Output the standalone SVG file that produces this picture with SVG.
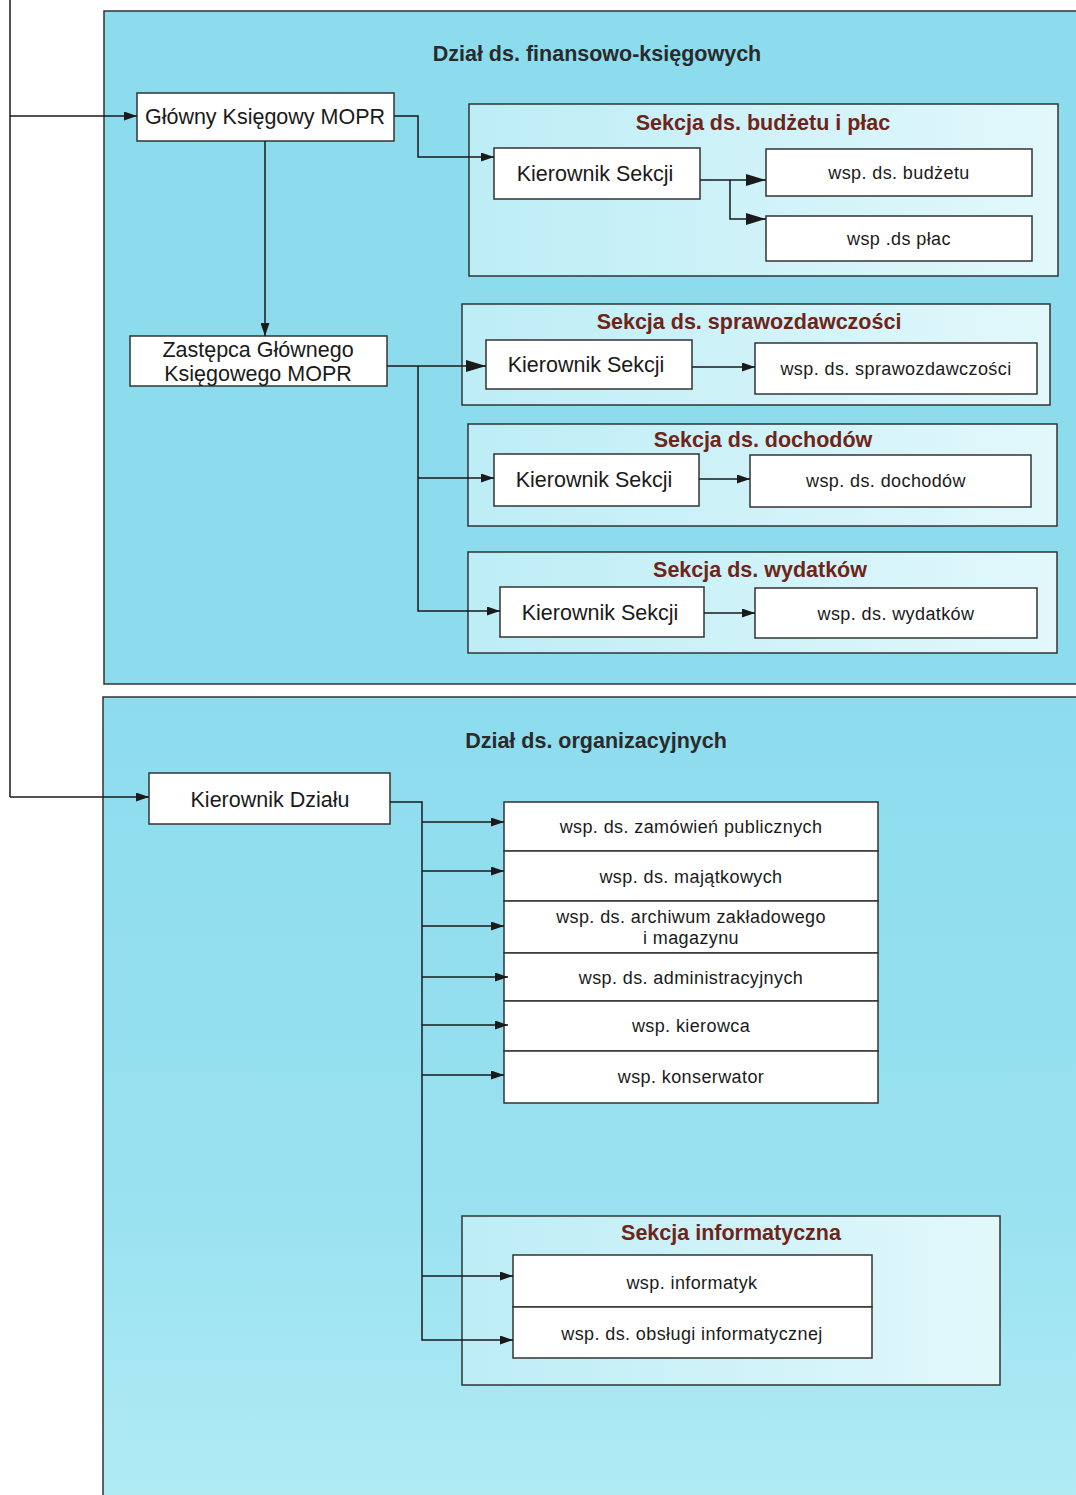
<svg xmlns="http://www.w3.org/2000/svg" width="1076" height="1495" viewBox="0 0 1076 1495">
<defs>
<linearGradient id="secg" x1="0" y1="0" x2="1" y2="0">
<stop offset="0" stop-color="#bdedf6"/>
<stop offset="1" stop-color="#e2f8fb"/>
</linearGradient>
<linearGradient id="dept2g" x1="0" y1="0" x2="0" y2="1">
<stop offset="0" stop-color="#8ddcee"/>
<stop offset="0.6" stop-color="#98e1f0"/>
<stop offset="1" stop-color="#b2ecf5"/>
</linearGradient>
<marker id="ah" viewBox="0 0 13 9" refX="13" refY="4.5" markerWidth="13" markerHeight="9" markerUnits="userSpaceOnUse" orient="auto">
<path d="M0,0 L13,4.5 L0,9 Z" fill="#1a1a1a"/>
</marker>
<marker id="ahb" viewBox="0 0 20 12" refX="20" refY="6" markerWidth="20" markerHeight="12" markerUnits="userSpaceOnUse" orient="auto">
<path d="M0,0 L20,6 L0,12 Z" fill="#1a1a1a"/>
</marker>
<style>
.dept{fill:#8ddcee;stroke:#333;stroke-width:1.5}
.sec{fill:url(#secg);stroke:#333;stroke-width:1.5}
.box{fill:#fff;stroke:#333;stroke-width:1.5}
.dt{font-family:"Liberation Sans",Arial,sans-serif;font-weight:bold;font-size:21.5px;fill:#2a2a2a;text-anchor:middle}
.st{font-family:"Liberation Sans",Arial,sans-serif;font-weight:bold;font-size:21.5px;fill:#6e2518;text-anchor:middle}
.bt{font-family:"Liberation Sans",Arial,sans-serif;font-size:21.5px;fill:#1a1a1a;text-anchor:middle}
.kt{font-family:"Liberation Sans",Arial,sans-serif;font-size:21.5px;fill:#1a1a1a;text-anchor:middle}
.wt{font-family:"Liberation Sans",Arial,sans-serif;font-size:18px;fill:#1a1a1a;text-anchor:middle;letter-spacing:0.4px}
.c{fill:none;stroke:#1a1a1a;stroke-width:1.5}
</style>
</defs>
<rect width="1076" height="1495" fill="#ffffff"/>

<g id="dept-fin">
<rect class="dept" x="104" y="11" width="990" height="673"/>
<text class="dt" x="597" y="61">Dział ds. finansowo-księgowych</text>
</g>
<g id="dept-org">
<rect x="103" y="697" width="990" height="820" fill="url(#dept2g)" stroke="#333" stroke-width="1.5"/>
<text class="dt" x="596" y="748">Dział ds. organizacyjnych</text>
</g>

<g id="sec-budzet">
<rect class="sec" x="469" y="104" width="589" height="172"/>
<text class="st" x="763" y="130">Sekcja ds. budżetu i płac</text>
</g>
<g id="sec-spraw">
<rect class="sec" x="462" y="304" width="588" height="101"/>
<text class="st" x="749" y="329">Sekcja ds. sprawozdawczości</text>
</g>
<g id="sec-doch">
<rect class="sec" x="468" y="424" width="589" height="102"/>
<text class="st" x="763" y="447">Sekcja ds. dochodów</text>
</g>
<g id="sec-wyd">
<rect class="sec" x="468" y="552" width="589" height="101"/>
<text class="st" x="760" y="577">Sekcja ds. wydatków</text>
</g>
<g id="sec-inf">
<rect class="sec" x="462" y="1216" width="538" height="169"/>
<text class="st" x="731" y="1240">Sekcja informatyczna</text>
</g>

<g id="glowny">
<rect class="box" x="137" y="93" width="257" height="48"/>
<text class="bt" x="265" y="124">Główny Księgowy MOPR</text>
</g>
<g id="zastepca">
<rect class="box" x="130" y="336" width="257" height="50"/>
<text class="bt" x="258" y="357">Zastępca Głównego</text>
<text class="bt" x="258" y="381">Księgowego MOPR</text>
</g>

<g id="kier-budzet">
<rect class="box" x="494" y="148" width="206" height="51"/>
<text class="kt" x="595" y="181">Kierownik Sekcji</text>
</g>
<g id="wsp-budzet">
<rect class="box" x="766" y="149" width="266" height="47"/>
<text class="wt" x="899" y="179">wsp. ds. budżetu</text>
</g>
<g id="wsp-plac">
<rect class="box" x="766" y="216" width="266" height="45"/>
<text class="wt" x="899" y="245">wsp .ds płac</text>
</g>

<g id="kier-spraw">
<rect class="box" x="486" y="340" width="206" height="49"/>
<text class="kt" x="586" y="372">Kierownik Sekcji</text>
</g>
<g id="wsp-spraw">
<rect class="box" x="755" y="343" width="282" height="51"/>
<text class="wt" x="896" y="375">wsp. ds. sprawozdawczości</text>
</g>

<g id="kier-doch">
<rect class="box" x="494" y="454" width="205" height="52"/>
<text class="kt" x="594" y="487">Kierownik Sekcji</text>
</g>
<g id="wsp-doch">
<rect class="box" x="750" y="455" width="281" height="52"/>
<text class="wt" x="886" y="487">wsp. ds. dochodów</text>
</g>

<g id="kier-wyd">
<rect class="box" x="500" y="587" width="204" height="50"/>
<text class="kt" x="600" y="620">Kierownik Sekcji</text>
</g>
<g id="wsp-wyd">
<rect class="box" x="755" y="588" width="282" height="50"/>
<text class="wt" x="896" y="620">wsp. ds. wydatków</text>
</g>

<g id="kier-dzialu">
<rect class="box" x="149" y="773" width="241" height="51"/>
<text class="bt" x="270" y="807">Kierownik Działu</text>
</g>

<g id="wsp-zam">
<rect class="box" x="504" y="802" width="374" height="49"/>
<text class="wt" x="691" y="833">wsp. ds. zamówień publicznych</text>
</g>
<g id="wsp-maj">
<rect class="box" x="504" y="851" width="374" height="50"/>
<text class="wt" x="691" y="883">wsp. ds. majątkowych</text>
</g>
<g id="wsp-arch">
<rect class="box" x="504" y="901" width="374" height="52"/>
<text class="wt" x="691" y="923">wsp. ds. archiwum zakładowego</text>
<text class="wt" x="691" y="944">i magazynu</text>
</g>
<g id="wsp-adm">
<rect class="box" x="504" y="953" width="374" height="48"/>
<text class="wt" x="691" y="984">wsp. ds. administracyjnych</text>
</g>
<g id="wsp-kier">
<rect class="box" x="504" y="1001" width="374" height="50"/>
<text class="wt" x="691" y="1032">wsp. kierowca</text>
</g>
<g id="wsp-kons">
<rect class="box" x="504" y="1051" width="374" height="52"/>
<text class="wt" x="691" y="1083">wsp. konserwator</text>
</g>

<g id="wsp-inf">
<rect class="box" x="513" y="1255" width="359" height="52"/>
<text class="wt" x="692" y="1289">wsp. informatyk</text>
</g>
<g id="wsp-obs">
<rect class="box" x="513" y="1307" width="359" height="51"/>
<text class="wt" x="692" y="1340">wsp. ds. obsługi informatycznej</text>
</g>

<g id="connectors">
<path class="c" d="M10,0 V797"/>
<path class="c" d="M10,116 H137" marker-end="url(#ah)"/>
<path class="c" d="M10,797 H149" marker-end="url(#ah)"/>
<path class="c" d="M394,116 H418 V157 H494" marker-end="url(#ah)"/>
<path class="c" d="M265,141 V336" marker-end="url(#ah)"/>
<path class="c" d="M700,180 H766" marker-end="url(#ahb)"/>
<path class="c" d="M730,180 V219 H766" marker-end="url(#ahb)"/>
<path class="c" d="M387,366 H486" marker-end="url(#ahb)"/>
<path class="c" d="M418,366 V611 H500" marker-end="url(#ah)"/>
<path class="c" d="M418,478 H494" marker-end="url(#ah)"/>
<path class="c" d="M692,367 H755" marker-end="url(#ah)"/>
<path class="c" d="M699,479 H750" marker-end="url(#ah)"/>
<path class="c" d="M704,613 H755" marker-end="url(#ah)"/>
<path class="c" d="M390,802 H422 V1340 H513" marker-end="url(#ah)"/>
<path class="c" d="M422,822 H504" marker-end="url(#ah)"/>
<path class="c" d="M422,871 H504" marker-end="url(#ah)"/>
<path class="c" d="M422,926 H504" marker-end="url(#ah)"/>
<path class="c" d="M422,977 H508" marker-end="url(#ah)"/>
<path class="c" d="M422,1025 H508" marker-end="url(#ah)"/>
<path class="c" d="M422,1075 H504" marker-end="url(#ah)"/>
<path class="c" d="M422,1276 H513" marker-end="url(#ah)"/>
</g>
</svg>
